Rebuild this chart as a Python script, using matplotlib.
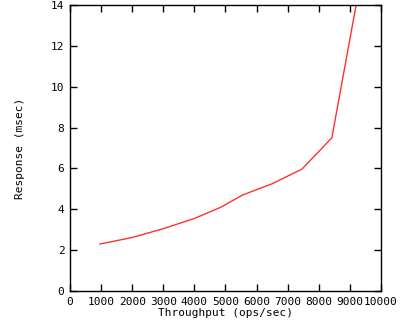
import matplotlib
matplotlib.use("Agg")
import matplotlib.pyplot as plt

# throughput (ops/sec) vs response (msec)
throughput = [965, 2000, 3000, 4000, 4850, 5550, 6500, 7460, 8420, 9200]
response = [2.3, 2.62, 3.05, 3.55, 4.1, 4.7, 5.25, 5.97, 7.5, 14.0]

xticks = list(range(0, 10001, 1000))
yticks = list(range(0, 15, 2))

plt.rcParams['font.family'] = 'DejaVu Sans Mono'
plt.rcParams['font.size'] = 8

fig = plt.figure(figsize=(4, 3.2), dpi=100)
ax = fig.add_axes([70/400, 1 - 291/320, (381-70)/400, (291-5)/320])

ax.plot(throughput, response, color='#ff3030', lw=1)

ax.set_xlim(0, 10000)
ax.set_ylim(0, 14)
ax.set_xticks(xticks)
ax.set_yticks(yticks)
ax.tick_params(direction='in', length=5, width=1, top=True, right=True, pad=4)
for s in ax.spines.values():
    s.set_linewidth(1)

ax.set_xlabel('Throughput (ops/sec)', labelpad=1)
ax.set_ylabel('Response (msec)', labelpad=19)

fig.savefig('out.png', dpi=100)
